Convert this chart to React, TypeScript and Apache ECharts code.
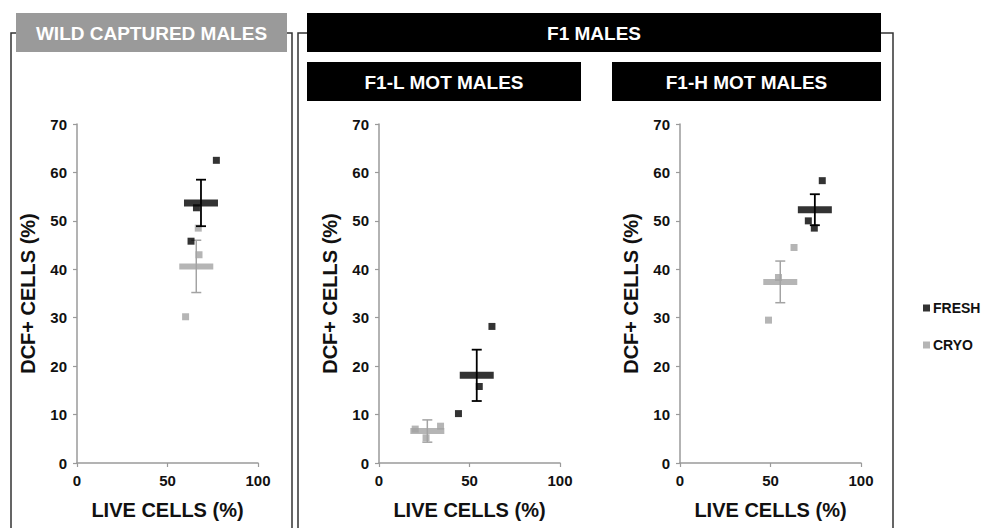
import React, { useEffect, useRef } from "react";
import * as echarts from "echarts";

// Group / panel headings
const groupTitle = "F1 MALES";
const panelTitles = ["WILD CAPTURED MALES", "F1-L MOT MALES", "F1-H MOT MALES"];
const seriesNames = ["FRESH", "CRYO"];
const xTitle = "LIVE CELLS (%)";
const yTitle = "DCF+ CELLS (%)";

// Individual males: live cells (%) and DCF+ cells (%)
const wildFreshLive = [77, 63, 66];
const wildFreshDcf = [62.5, 45.8, 52.7];
const wildCryoLive = [60, 67.4, 67];
const wildCryoDcf = [30.2, 43, 48.5];

const lowFreshLive = [62.4, 55.4, 43.9];
const lowFreshDcf = [28.2, 15.8, 10.2];
const lowCryoLive = [20, 34, 26];
const lowCryoDcf = [7.0, 7.6, 5.2];

const highFreshLive = [78.6, 70.9, 74.2];
const highFreshDcf = [58.3, 50, 48.5];
const highCryoLive = [63, 48.9, 54.4];
const highCryoDcf = [44.5, 29.5, 38.3];

// Group means (live, DCF+) and error of the DCF+ mean, per panel
const freshMeanLive = [68.5, 54, 74.5];
const freshMeanDcf = [53.7, 18.1, 52.3];
const freshErr = [4.8, 5.3, 3.2];
const cryoMeanLive = [65.9, 26.7, 55.4];
const cryoMeanDcf = [40.6, 6.6, 37.4];
const cryoErr = [5.4, 2.3, 4.3];

const FRESH_COLOR = "#000000";
const CRYO_COLOR = "#a3a3a3";
const FONT = "'Liberation Sans', Arial, sans-serif";

const zip = (xs: number[], ys: number[]) => xs.map((x, i) => [x, ys[i]]);

const errorBar = (color: string, width: number) =>
  function renderItem(params: any, api: any) {
    const x = api.value(0);
    const y = api.value(1);
    const e = api.value(2);
    const top = api.coord([x, y + e]);
    const bot = api.coord([x, y - e]);
    const cap = 5;
    const style = { stroke: color, lineWidth: width };
    return {
      type: "group",
      children: [
        { type: "line", shape: { x1: top[0], y1: top[1], x2: bot[0], y2: bot[1] }, style },
        { type: "line", shape: { x1: top[0] - cap, y1: top[1], x2: top[0] + cap, y2: top[1] }, style },
        { type: "line", shape: { x1: bot[0] - cap, y1: bot[1], x2: bot[0] + cap, y2: bot[1] }, style },
      ],
    };
  };

export default function App() {
  const ref = useRef<HTMLDivElement>(null);

  useEffect(() => {
    if (!ref.current) return;
    const chart = echarts.init(ref.current, undefined, { renderer: "svg" });

    const gridLefts = [77, 379, 680];
    const grids = gridLefts.map((left) => ({ left, width: 181, top: 124, height: 339 }));

    const axisLine = { show: true, lineStyle: { color: "#9a9a9a", width: 1.5 } };
    const axisTick = { show: true, length: 4, lineStyle: { color: "#9a9a9a", width: 1.2 } };
    const labelStyle = { color: "#111", fontFamily: FONT, fontWeight: "bold" as const, fontSize: 15 };
    const nameStyle = { color: "#111", fontFamily: FONT, fontWeight: "bold" as const, fontSize: 20 };

    const xAxes = gridLefts.map((_, i) => ({
      type: "value",
      gridIndex: i,
      min: 0,
      max: 100,
      interval: 50,
      splitLine: { show: false },
      axisLine,
      axisTick,
      axisLabel: { ...labelStyle, margin: 10 },
      name: xTitle,
      nameLocation: "middle",
      nameGap: 37,
      nameTextStyle: nameStyle,
    }));
    const yAxes = gridLefts.map((_, i) => ({
      type: "value",
      gridIndex: i,
      min: 0,
      max: 70,
      interval: 10,
      splitLine: { show: false },
      axisLine,
      axisTick,
      axisLabel: { ...labelStyle, margin: 10 },
      name: yTitle,
      nameLocation: "middle",
      nameGap: 39,
      nameTextStyle: nameStyle,
    }));

    const freshPts = [zip(wildFreshLive, wildFreshDcf), zip(lowFreshLive, lowFreshDcf), zip(highFreshLive, highFreshDcf)];
    const cryoPts = [zip(wildCryoLive, wildCryoDcf), zip(lowCryoLive, lowCryoDcf), zip(highCryoLive, highCryoDcf)];

    const series: any[] = [];
    for (let i = 0; i < 3; i++) {
      const axes = { xAxisIndex: i, yAxisIndex: i };
      series.push(
        {
          name: "cryo-err",
          type: "custom",
          ...axes,
          renderItem: errorBar(CRYO_COLOR, 1.5),
          data: [[cryoMeanLive[i], cryoMeanDcf[i], cryoErr[i]]],
          z: 2,
        },
        {
          name: "cryo-mean",
          type: "scatter",
          ...axes,
          symbol: "rect",
          symbolSize: [34, 6],
          itemStyle: { color: CRYO_COLOR },
          data: [[cryoMeanLive[i], cryoMeanDcf[i]]],
          z: 3,
        },
        {
          name: seriesNames[1],
          type: "scatter",
          ...axes,
          symbol: "rect",
          symbolSize: 7,
          itemStyle: { color: CRYO_COLOR },
          data: cryoPts[i],
          z: 4,
        },
        {
          name: "fresh-err",
          type: "custom",
          ...axes,
          renderItem: errorBar(FRESH_COLOR, 1.8),
          data: [[freshMeanLive[i], freshMeanDcf[i], freshErr[i]]],
          z: 5,
        },
        {
          name: "fresh-mean",
          type: "scatter",
          ...axes,
          symbol: "rect",
          symbolSize: [34, 7],
          itemStyle: { color: FRESH_COLOR },
          data: [[freshMeanLive[i], freshMeanDcf[i]]],
          z: 6,
        },
        {
          name: seriesNames[0],
          type: "scatter",
          ...axes,
          symbol: "rect",
          symbolSize: 7,
          itemStyle: { color: FRESH_COLOR },
          data: freshPts[i],
          z: 7,
        }
      );
    }

    const frameStyle = { stroke: "#333", lineWidth: 1.5, fill: "none" };
    const headerText = (x: number, y: number, text: string) => ({
      type: "text",
      x,
      y,
      style: {
        text,
        fill: "#fff",
        font: `bold 19px ${FONT}`,
        align: "center",
        verticalAlign: "middle",
      },
      z: 20,
    });

    chart.setOption({
      animation: false,
      backgroundColor: "#fff",
      grid: grids,
      xAxis: xAxes,
      yAxis: yAxes,
      legend: {
        data: seriesNames,
        orient: "vertical",
        left: 918,
        top: 296,
        itemGap: 23,
        itemWidth: 7,
        itemHeight: 7,
        icon: "rect",
        textStyle: { color: "#111", fontFamily: FONT, fontWeight: "bold", fontSize: 14, padding: [0, 0, 0, -2] },
      },
      graphic: [
        // panel frames
        { type: "polyline", shape: { points: [[16, 33], [11, 33], [11, 528]] }, style: frameStyle },
        { type: "polyline", shape: { points: [[287, 33], [292, 33], [292, 528]] }, style: frameStyle },
        { type: "polyline", shape: { points: [[307, 33], [298, 33], [298, 528]] }, style: frameStyle },
        { type: "polyline", shape: { points: [[881, 33], [893, 33], [893, 528]] }, style: frameStyle },
        // headers
        { type: "rect", shape: { x: 16, y: 13, width: 271, height: 39 }, style: { fill: "#9a9a9a" }, z: 10 },
        { type: "rect", shape: { x: 307, y: 13, width: 574, height: 39 }, style: { fill: "#000" }, z: 10 },
        { type: "rect", shape: { x: 307, y: 62, width: 274, height: 39 }, style: { fill: "#000" }, z: 10 },
        { type: "rect", shape: { x: 612, y: 62, width: 269, height: 39 }, style: { fill: "#000" }, z: 10 },
        headerText(151.5, 33, panelTitles[0]),
        headerText(594, 33, groupTitle),
        headerText(444, 82, panelTitles[1]),
        headerText(746.5, 82, panelTitles[2]),
      ],
      series,
    });

    return () => chart.dispose();
  }, []);

  return (
    <div
      ref={ref}
      style={{ position: "fixed", left: 0, top: 0, width: 985, height: 528, background: "#fff" }}
    />
  );
}
